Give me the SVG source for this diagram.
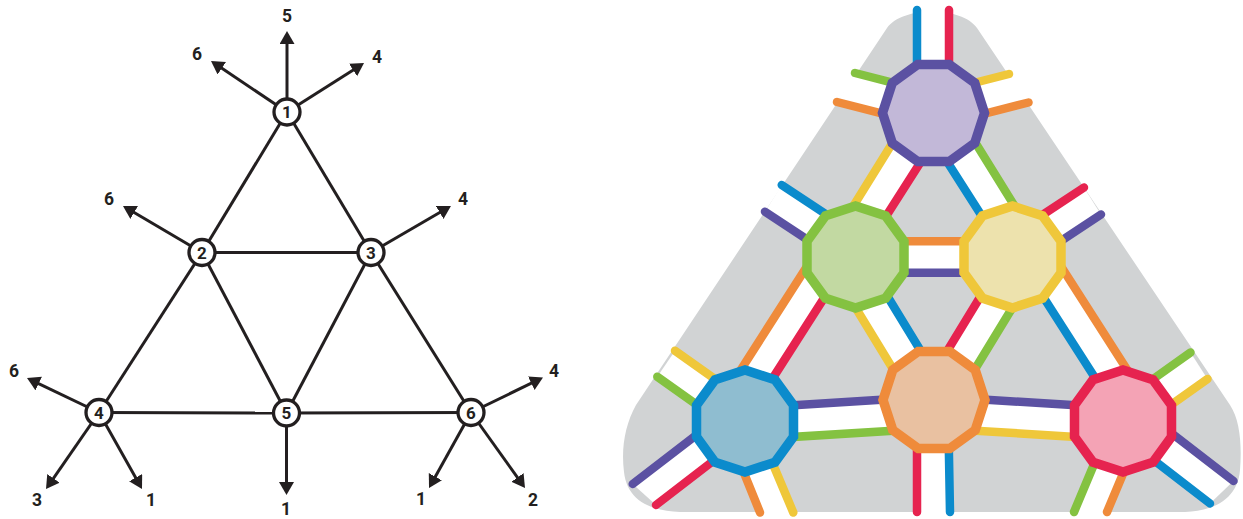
<svg xmlns="http://www.w3.org/2000/svg" width="1243" height="519" viewBox="0 0 1243 519">
  <style>
    .edge{stroke:#231f20;stroke-width:3;fill:none}
    .arrow{stroke:#231f20;stroke-width:3;fill:none;marker-end:url(#ah)}
    .gnode circle{fill:#fff;stroke:#231f20;stroke-width:3.3}
    text{font-family:Roboto,"Liberation Sans",Arial,sans-serif;font-weight:700;fill:#231f20;text-anchor:middle}
    .lbl{font-size:17.5px}
    .num{font-size:17px}
    .band{fill:#fff}
    .ln{fill:none;stroke-width:8.5;stroke-linecap:round}
    .pu{stroke:#5b51a2}
    .gr{stroke:#84c241}
    .ye{stroke:#efc73a}
    .bl{stroke:#0b8bcc}
    .or{stroke:#ef8b3b}
    .re{stroke:#e6234f}
    .dec{stroke-width:9.5;stroke-linejoin:miter}
  </style>
  <defs>
    <marker id="ah" markerUnits="userSpaceOnUse" markerWidth="16" markerHeight="16" refX="3" refY="7.5" orient="auto">
      <path d="M0,0 L13,7.5 L0,15 Z" fill="#231f20"/>
    </marker>
    <!-- decagon with vertices left/right (flat top) -->
    <polygon id="decA" points="51,0 41.26,29.99 15.76,48.5 -15.76,48.5 -41.26,29.99 -51,0 -41.26,-29.99 -15.76,-48.5 15.76,-48.5 41.26,-29.99"/>
    <!-- decagon with vertices top/bottom (flat sides) -->
    <polygon id="decB" points="48.5,15.76 29.99,41.26 0,51 -29.99,41.26 -48.5,15.76 -48.5,-15.76 -29.99,-41.26 0,-51 29.99,-41.26 48.5,-15.76"/>
  </defs>

  <!-- ===== Left: triangular graph ===== -->
  <g id="graph-connectors">
    <line class="edge" x1="287" y1="112" x2="202" y2="252.5"/>
    <line class="edge" x1="287" y1="112" x2="371" y2="252.5"/>
    <line class="edge" x1="202" y1="252.5" x2="371" y2="252.5"/>
    <line class="edge" x1="202" y1="252.5" x2="99" y2="412.5"/>
    <line class="edge" x1="202" y1="252.5" x2="286.5" y2="413"/>
    <line class="edge" x1="371" y1="252.5" x2="286.5" y2="413"/>
    <line class="edge" x1="371" y1="252.5" x2="471" y2="412.5"/>
    <line class="edge" x1="99" y1="412.5" x2="286.5" y2="413"/>
    <line class="edge" x1="286.5" y1="413" x2="471" y2="412.5"/>

    <line class="arrow" x1="287" y1="112" x2="287" y2="41"/>
    <line class="arrow" x1="287" y1="112" x2="219.3" y2="66.6"/>
    <line class="arrow" x1="287" y1="112" x2="355.6" y2="68.4"/>
    <line class="arrow" x1="202" y1="252.5" x2="131.6" y2="211"/>
    <line class="arrow" x1="371" y1="252.5" x2="442.3" y2="211"/>
    <line class="arrow" x1="99" y1="412.5" x2="36" y2="382.3"/>
    <line class="arrow" x1="99" y1="412.5" x2="51.7" y2="480.8"/>
    <line class="arrow" x1="99" y1="412.5" x2="137.1" y2="480.3"/>
    <line class="arrow" x1="286.5" y1="413" x2="286.5" y2="485"/>
    <line class="arrow" x1="471" y1="412.5" x2="534" y2="381.9"/>
    <line class="arrow" x1="471" y1="412.5" x2="433.9" y2="479.3"/>
    <line class="arrow" x1="471" y1="412.5" x2="519.2" y2="479.9"/>

    <text class="lbl" x="287" y="21.5">5</text>
    <text class="lbl" x="197" y="59.5">6</text>
    <text class="lbl" x="377" y="62.8">4</text>
    <text class="lbl" x="109" y="204.5">6</text>
    <text class="lbl" x="463" y="204.5">4</text>
    <text class="lbl" x="14" y="376.5">6</text>
    <text class="lbl" x="37" y="505.5">3</text>
    <text class="lbl" x="151" y="505.5">1</text>
    <text class="lbl" x="286" y="515">1</text>
    <text class="lbl" x="554" y="377">4</text>
    <text class="lbl" x="421" y="505">1</text>
    <text class="lbl" x="533" y="505.5">2</text>
  </g>

  <g id="g1" class="gnode"><circle cx="287" cy="112" r="13"/><text class="num" x="287" y="118">1</text></g>
  <g id="g2" class="gnode"><circle cx="202" cy="252.5" r="13"/><text class="num" x="202" y="258.5">2</text></g>
  <g id="g3" class="gnode"><circle cx="371" cy="252.5" r="13"/><text class="num" x="371" y="258.5">3</text></g>
  <g id="g4" class="gnode"><circle cx="99" cy="412.5" r="13"/><text class="num" x="99" y="418.5">4</text></g>
  <g id="g5" class="gnode"><circle cx="286.5" cy="413" r="13"/><text class="num" x="286.5" y="419">5</text></g>
  <g id="g6" class="gnode"><circle cx="471" cy="412.5" r="13"/><text class="num" x="471" y="418.5">6</text></g>

  <!-- ===== Right: coloured decagon diagram ===== -->
  <path id="backdrop" fill="#d1d3d4" d="M887,28 C902,6 962,6 977,28 L1230,405 C1240,420 1242,445 1240,470 C1238,498 1215,511 1185,512 L680,512 C650,511 627,500 624,472 C621,448 625,425 636,405 Z"/>

  <g id="bands">
    <!-- internal edges -->
    <polygon class="band" points="900.5,130 841.6,225 874.1,235 934.7,140"/>
    <line class="ln ye" x1="900.5" y1="130" x2="841.6" y2="225"/>
    <line class="ln re" x1="934.7" y1="140" x2="874.1" y2="235"/>

    <polygon class="band" points="967.5,130 1026.4,225 993.9,235 933.3,140"/>
    <line class="ln gr" x1="967.5" y1="130" x2="1026.4" y2="225"/>
    <line class="ln bl" x1="933.3" y1="140" x2="993.9" y2="235"/>

    <polygon class="band" points="860,241.3 1008,241.3 1008,272.7 860,272.7"/>
    <line class="ln or" x1="860" y1="241.3" x2="1008" y2="241.3"/>
    <line class="ln pu" x1="860" y1="272.7" x2="1008" y2="272.7"/>

    <polygon class="band" points="817.5,250 721.5,400 752.4,410 847.1,262"/>
    <line class="ln or" x1="817.5" y1="250" x2="721.5" y2="400"/>
    <line class="ln re" x1="847.1" y1="262" x2="752.4" y2="410"/>

    <polygon class="band" points="1050.5,250 1146.5,400 1115.6,410 1020.9,262"/>
    <line class="ln or" x1="1050.5" y1="250" x2="1146.5" y2="400"/>
    <line class="ln bl" x1="1020.9" y1="262" x2="1115.6" y2="410"/>

    <polygon class="band" points="838.7,280 902.7,385 935.4,375 871.4,270"/>
    <line class="ln ye" x1="838.7" y1="280" x2="902.7" y2="385"/>
    <line class="ln bl" x1="871.4" y1="270" x2="935.4" y2="375"/>

    <polygon class="band" points="996.6,270 932.6,375 965.3,385 1029.3,280"/>
    <line class="ln re" x1="996.6" y1="270" x2="932.6" y2="375"/>
    <line class="ln gr" x1="1029.3" y1="280" x2="965.3" y2="385"/>

    <polygon class="band" points="760,407.3 905,398.2 905,429.9 760,439"/>
    <line class="ln pu" x1="760" y1="407.3" x2="905" y2="398.2"/>
    <line class="ln gr" x1="760" y1="439" x2="905" y2="429.9"/>

    <polygon class="band" points="1108,407.3 963,398.2 963,429.9 1108,439"/>
    <line class="ln pu" x1="1108" y1="407.3" x2="963" y2="398.2"/>
    <line class="ln ye" x1="1108" y1="439" x2="963" y2="429.9"/>

    <!-- outward stubs -->
    <polygon class="band" points="917,10 917,100 949,100 949,10"/>
    <line class="ln bl" x1="917" y1="10" x2="917" y2="100"/>
    <line class="ln re" x1="949" y1="10" x2="949" y2="100"/>

    <polygon class="band" points="855,73 905,85.8 905,119.4 837,102"/>
    <line class="ln gr" x1="855" y1="73" x2="905" y2="85.8"/>
    <line class="ln or" x1="837" y1="102" x2="905" y2="119.4"/>

    <polygon class="band" points="1009,74 962,86 962,119.5 1028.5,102.5"/>
    <line class="ln ye" x1="1009" y1="74" x2="962" y2="86"/>
    <line class="ln or" x1="1028.5" y1="102.5" x2="962" y2="119.5"/>

    <polygon class="band" points="781.7,185 840,223.5 830,254.6 765,211.7"/>
    <line class="ln bl" x1="781.7" y1="185" x2="840" y2="223.5"/>
    <line class="ln pu" x1="765" y1="211.7" x2="830" y2="254.6"/>

    <polygon class="band" points="1084,187.5 1030,223.1 1040,254.8 1101,214.5"/>
    <line class="ln re" x1="1084" y1="187.5" x2="1030" y2="223.1"/>
    <line class="ln pu" x1="1101" y1="214.5" x2="1040" y2="254.8"/>

    <polygon class="band" points="675,350.7 730,389.8 720,421.2 657.3,376.7"/>
    <line class="ln ye" x1="675" y1="350.7" x2="730" y2="389.8"/>
    <line class="ln gr" x1="657.3" y1="376.7" x2="720" y2="421.2"/>

    <polygon class="band" points="632.7,484 720,416.8 730,448 656,505"/>
    <line class="ln pu" x1="632.7" y1="484" x2="720" y2="416.8"/>
    <line class="ln re" x1="656" y1="505" x2="730" y2="448"/>

    <polygon class="band" points="760,512.5 734.7,450 767,450 793.3,512.5"/>
    <line class="ln or" x1="760" y1="512.5" x2="734.7" y2="450"/>
    <line class="ln ye" x1="793.3" y1="512.5" x2="767" y2="450"/>

    <polygon class="band" points="917,512 917,430 948.5,430 950,512"/>
    <line class="ln re" x1="917" y1="512" x2="917" y2="430"/>
    <line class="ln bl" x1="950" y1="512" x2="948.5" y2="430"/>

    <polygon class="band" points="1190.5,352.5 1140,388.4 1130,434 1207.5,379"/>
    <line class="ln gr" x1="1190.5" y1="352.5" x2="1140" y2="388.4"/>
    <line class="ln ye" x1="1207.5" y1="379" x2="1130" y2="434"/>

    <polygon class="band" points="1233.5,481 1150,416.7 1120,434.2 1210,503.5"/>
    <line class="ln pu" x1="1233.5" y1="481" x2="1150" y2="416.7"/>
    <line class="ln bl" x1="1210" y1="503.5" x2="1120" y2="434.2"/>

    <polygon class="band" points="1074,512 1100,450 1133,450 1107,512"/>
    <line class="ln gr" x1="1074" y1="512" x2="1100" y2="450"/>
    <line class="ln or" x1="1107" y1="512" x2="1133" y2="450"/>
  </g>

  <g id="d1"><use href="#decA" class="dec" x="933.5" y="113" fill="#c2b8d8" stroke="#5b51a2"/></g>
  <g id="d2"><use href="#decB" class="dec" x="855.5" y="257" fill="#c2d9a2" stroke="#84c241"/></g>
  <g id="d3"><use href="#decB" class="dec" x="1012.5" y="257" fill="#ede2ad" stroke="#efc73a"/></g>
  <g id="d4"><use href="#decB" class="dec" x="745" y="421" fill="#8fbdd0" stroke="#0b8bcc"/></g>
  <g id="d5"><use href="#decA" class="dec" x="934" y="400" fill="#e9c1a1" stroke="#ef8b3b"/></g>
  <g id="d6"><use href="#decB" class="dec" x="1123" y="421" fill="#f4a3b5" stroke="#e6234f"/></g>
</svg>
